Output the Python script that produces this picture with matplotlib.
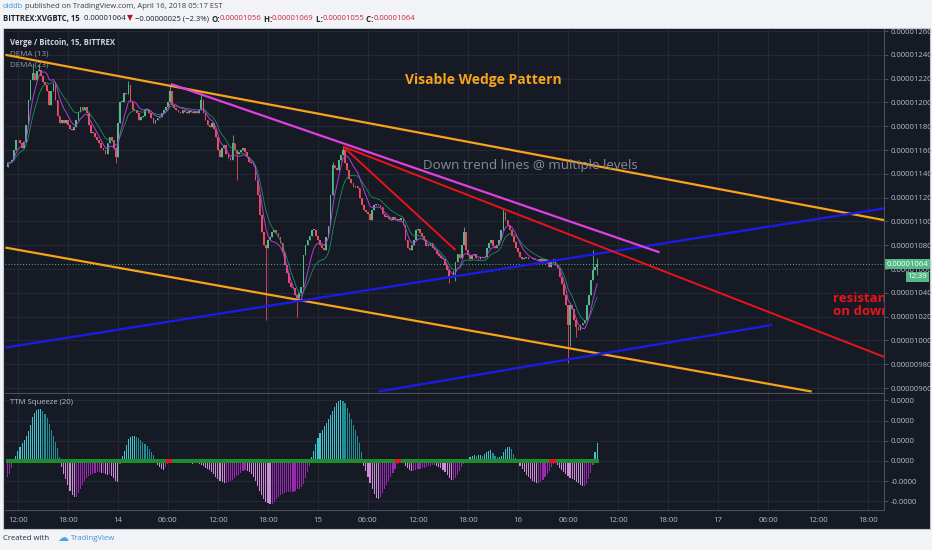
import matplotlib
matplotlib.use("Agg")
import matplotlib.pyplot as plt
import matplotlib.transforms as mtransforms
from matplotlib.patches import Rectangle
from matplotlib.ticker import FuncFormatter

plt.rcParams['font.family'] = ['Open Sans', 'DejaVu Sans']

# 15 minute candles, bar 0 = Apr 13 12:00, values in satoshi (1e-8 BTC)
first_bar = -5
first_open = 1146
closes = [
    1149, 1150, 1152, 1160, 1168,
    1168, 1166, 1162, 1167, 1181, 1202, 1219, 1225, 1219, 1226, 1227, 1222,
    1217, 1215, 1210, 1198, 1210, 1216, 1202, 1189, 1183, 1185, 1183, 1185,
    1181, 1178, 1177, 1179, 1185, 1192, 1196, 1194, 1196, 1191, 1181, 1174,
    1174, 1171, 1168, 1166, 1162, 1160, 1157, 1166, 1171, 1168, 1162, 1154,
    1183, 1200, 1200, 1208, 1207, 1215, 1200, 1194, 1194, 1191, 1185, 1188,
    1189, 1194, 1194, 1191, 1187, 1183, 1185, 1187, 1188, 1191, 1194, 1196,
    1200, 1210, 1198, 1195, 1194, 1192, 1191, 1194, 1192, 1191, 1193, 1192,
    1191, 1193, 1191, 1194, 1202, 1191, 1185, 1181, 1179, 1183, 1178, 1171,
    1160, 1154, 1162, 1164, 1157, 1153, 1152, 1166, 1160, 1157, 1158, 1160,
    1162, 1158, 1154, 1150, 1149, 1147, 1135, 1122, 1105, 1091, 1080, 1078,
    1084, 1087, 1091, 1093, 1090, 1087, 1082, 1074, 1063, 1057, 1048, 1045,
    1044, 1038, 1036, 1040, 1045, 1072, 1080, 1084, 1088, 1093, 1093, 1088,
    1084, 1080, 1078, 1076, 1087, 1096, 1122, 1147, 1145, 1143, 1152, 1156,
    1160, 1149, 1143, 1136, 1132, 1129, 1130, 1128, 1120, 1114, 1110, 1108,
    1106, 1101, 1110, 1114, 1115, 1114, 1112, 1106, 1104, 1104, 1102, 1101,
    1104, 1102, 1101, 1101, 1103, 1097, 1084, 1078, 1076, 1080, 1084, 1093,
    1094, 1090, 1088, 1084, 1079, 1080, 1082, 1078, 1076, 1073, 1071, 1069,
    1068, 1063, 1059, 1053, 1053, 1058, 1066, 1073, 1069, 1080, 1091, 1076,
    1072, 1068, 1072, 1073, 1069, 1068, 1070, 1069, 1070, 1078, 1082, 1084,
    1079, 1078, 1080, 1084, 1093, 1108, 1101, 1097, 1093, 1088, 1083, 1078,
    1074, 1070, 1068, 1069, 1070, 1068, 1068, 1069, 1068, 1068, 1067, 1068,
    1065, 1068, 1066, 1062, 1066, 1068, 1063, 1061, 1053, 1047, 1038, 1030,
    1013, 1030, 1026, 1017, 1011, 1009, 1013, 1015, 1017, 1030, 1038, 1051,
    1059, 1062, 1064,
]
# longer wicks (bar -> price)
wick_highs = {7: 1233, 10: 1232, 53: 1218, 73: 1215, 88: 1208, 103: 1173,
              151: 1150, 156: 1163, 214: 1095, 233: 1111, 276: 1076, 278: 1069}
wick_lows = {47: 1149, 105: 1135, 119: 1017, 134: 1020, 207: 1048, 210: 1050,
             264: 981, 265: 995, 268: 1003, 278: 1055}

# TTM Squeeze (20) momentum, 1e-8 units
squeeze_mom = [
    -8, -6.5, -3.5, -1, 2.5,
    5, 7, 9, 10.5, 12.5, 15, 18, 22, 24, 25.5, 26, 26,
    25, 23.5, 21.5, 18.5, 15.5, 12.5, 9.5, 6.5, 2, -3, -6.5, -9,
    -12, -15, -17, -18, -18, -16, -14, -12, -10, -8.5, -7.5, -7,
    -6.5, -6, -5.5, -5.5, -6, -6, -6.5, -7, -6.5, -7.5, -8.5, -10,
    -10.5, -1.5, 2.5, 5, 8, 11, 12, 12.5, 12.5, 12, 11.5, 10.5,
    9.5, 8.5, 7.5, 6, 4.5, 3, 1, -2, -3, -4, -4.5, -3,
    -1.5, -0.5, 0, -0.5, -0.5, -1, -1, -1, -1, -0.5, -1, -1,
    -1.5, -1, -1, -1.5, -2, -2.5, -3.5, -4, -4.5, -5.5, -6.5, -8,
    -9, -10, -10.5, -11, -11, -10.5, -10, -9.5, -8.5, -7.5, -7, -6,
    -5, -4.5, -5, -5.5, -6.5, -8, -10, -12.5, -15, -17, -19, -20.5,
    -21, -21.5, -21.5, -20.5, -19, -18, -17, -16.5, -16, -15.5, -15.5, -15.5,
    -15.5, -15, -14, -14, -13, -11.5, -8.5, -5.5, -2.5, 2, 5, 8.5,
    11.5, 14, 15.5, 17.5, 19, 21, 23, 25, 27, 28.5, 29.5, 30,
    29.5, 28.5, 26.5, 24, 21, 18, 15.5, 12.5, 9, 4.5, -2.5, -5,
    -8, -11, -14, -16.5, -18.5, -19, -18, -16, -14, -12, -10, -8,
    -6, -4, -1.5, -0.5, -0.5, -1, -2.5, -3.5, -4.5, -5, -5, -4.5,
    -4, -4, -3.5, -3.5, -3, -2.5, -2.5, -2, -2, -2.5, -3, -3.5,
    -4.5, -5.5, -7, -8.5, -9.5, -9.5, -8.5, -7, -5, -3, -1.5, 0.5,
    1, 2, 2.5, 3, 2.5, 3, 3, 2.5, 3.5, 4.5, 5, 5.5,
    4, 2.5, 2, 2, 2.5, 4.5, 6, 7, 7, 6, 3.5, 1.5,
    -1, -2.5, -4, -5.5, -7, -8, -9, -10, -10.5, -11, -11, -10.5,
    -9.5, -8, -6.5, -5, -3, -1.5, -1, -2, -3.5, -4.5, -5.5, -6.5,
    -7.5, -8.5, -9, -9.5, -10.5, -11, -12, -12.5, -12.5, -11.5, -9, -6,
    -2, 4.5, 9,
]
squeeze_on = [72, 73, 74, 182, 183, 184, 256, 257, 258]

tick_bars = list(range(0, 409, 24))
tick_labels = ["12:00", "18:00", "14", "06:00", "12:00", "18:00", "15", "06:00",
               "12:00", "18:00", "16", "06:00", "12:00", "18:00", "17", "06:00",
               "12:00", "18:00"]

# drawn trend lines: (bar, price) end points
wedge_top = [(-6, 1240), (416, 1101)]
wedge_bottom = [(-6, 1078), (381, 957)]
support_long = [(-6, 994), (416, 1111)]
support_short = [(173, 957), (362, 1013)]
resist_magenta = [(73.4, 1215.5), (308, 1074)]
resist_red_steep = [(156, 1163), (210, 1076)]
resist_red_long = [(156, 1163), (416, 986)]

W, H = 932, 550
BG = '#161a25'
GRID = '#252934'
EDGE = '#4b4f5a'
TXT = '#b8bcc6'
UP, DOWN = '#53b987', '#eb4d5c'

bars = list(range(first_bar, first_bar + len(closes)))
opens = [first_open] + closes[:-1]
highs = [wick_highs.get(b, max(o, c)) for b, o, c in zip(bars, opens, closes)]
lows = [wick_lows.get(b, min(o, c)) for b, o, c in zip(bars, opens, closes)]


def ema(vals, n):
    a = 2.0 / (n + 1)
    out = [vals[0]]
    for v in vals[1:]:
        out.append(out[-1] + a * (v - out[-1]))
    return out


def dema(vals, n):
    e1 = ema(vals, n)
    e2 = ema(e1, n)
    return [2 * a - b for a, b in zip(e1, e2)]


def rect(x0, y0, x1, y1):
    return [x0 / W, 1 - y1 / H, (x1 - x0) / W, (y1 - y0) / H]


fig = plt.figure(figsize=(W / 100, H / 100), dpi=100, facecolor='#f1f3f7')
fig.patches.append(Rectangle((3 / W, 1 - 529 / H), 927 / W, 501 / H,
                             transform=fig.transFigure, facecolor=BG,
                             edgecolor='#c3c7cf', lw=0.8, zorder=-5))

ax = fig.add_axes(rect(5, 29, 884, 393))
axm = fig.add_axes(rect(5, 394, 884, 510), sharex=ax)

for a in (ax, axm):
    a.set_facecolor(BG)
    for s in ('top', 'left'):
        a.spines[s].set_visible(False)
    for s in ('right', 'bottom'):
        a.spines[s].set_color(EDGE)
    a.grid(True, color=GRID, lw=0.7)
    a.set_axisbelow(True)
    a.tick_params(axis='y', right=True, left=False, labelright=True,
                  labelleft=False, color=EDGE, labelcolor=TXT,
                  labelsize=5.6, length=3, pad=2)

# candles
for b, o, h, l, c in zip(bars, opens, highs, lows, closes):
    col = UP if c >= o else DOWN
    ax.vlines(b, l, h, color=col, lw=0.6, zorder=2)
    ax.bar(b, max(abs(c - o), 0.8), bottom=min(o, c), width=0.8,
           color=col, lw=0, zorder=2)

ax.plot(bars, dema(closes, 23), color='#1f9a5b', lw=0.55, zorder=3)
ax.plot(bars, dema(closes, 13), color='#b43ddb', lw=0.7, zorder=3)

last_price = closes[-1]
ax.axhline(last_price, color=UP, lw=0.7, ls=(0, (1, 2)), zorder=1)

lines = [(wedge_top, '#f7a31c', 1.6), (wedge_bottom, '#f7a31c', 1.6),
         (support_long, '#1c1ce0', 1.7), (support_short, '#1c1ce0', 1.7),
         (resist_magenta, '#e040e0', 1.6), (resist_red_steep, '#e8141a', 1.4),
         (resist_red_long, '#e8141a', 1.4)]
for pts, col, lw in lines:
    ax.plot([p[0] for p in pts], [p[1] for p in pts], color=col, lw=lw,
            solid_capstyle='butt', zorder=4)

ax.set_xlim(-6.2, 415.7)
ax.set_ylim(955.8, 1261.7)
ax.set_yticks(range(960, 1261, 20))
ax.yaxis.set_major_formatter(FuncFormatter(lambda v, p: f"{v * 1e-8:.8f}"))
ax.set_xticks(tick_bars)
ax.tick_params(axis='x', bottom=False, labelbottom=False)

ax.text(185.8, 1218.8, "Visable Wedge Pattern", color='#f7a31c', fontsize=10,
        fontweight='bold', va='center', zorder=5)
ax.text(194.4, 1146.6, "Down trend lines @ multiple levels", color='#868a94',
        fontsize=9.6, va='center', zorder=5)
for txt, yv in (("resistance", 1035.6), ("on down trend", 1023.9)):
    ax.text(391.3, yv, txt, color='#e8141a', fontsize=9.5, fontweight='bold',
            va='center', clip_on=True, zorder=5)

ax.text(0.006, 0.962, "Verge / Bitcoin, 15, BITTREX", transform=ax.transAxes,
        color='#d1d4dc', fontsize=5.6, fontweight='bold', va='center')
ax.text(0.006, 0.932, "DEMA (13)", transform=ax.transAxes, color='#9598a1',
        fontsize=5.8, va='center')
ax.text(0.006, 0.902, "DEMA (23)", transform=ax.transAxes, color='#9598a1',
        fontsize=5.8, va='center')

trans = mtransforms.blended_transform_factory(ax.transAxes, ax.transData)
ax.annotate(f"{last_price * 1e-8:.8f}", xy=(1, last_price), xycoords=trans,
            xytext=(2, 0), textcoords='offset points', ha='left', va='center',
            fontsize=5.6, color='white', annotation_clip=False,
            bbox=dict(boxstyle='square,pad=0.2', fc=UP, ec='none'))
ax.annotate("12:39", xy=(1, last_price), xycoords=trans, xytext=(31, -9),
            textcoords='offset points', ha='right', va='center',
            fontsize=5.6, color='white', annotation_clip=False,
            bbox=dict(boxstyle='square,pad=0.2', fc=UP, ec='none'))

# TTM squeeze histogram
hist_cols = []
for i, v in enumerate(squeeze_mom):
    prev = squeeze_mom[i - 1] if i else v
    if v >= 0:
        hist_cols.append('#3cc3cc' if v >= prev else '#1d8f96')
    else:
        hist_cols.append('#d08ad9' if v < prev else '#9a28b0')
axm.bar(bars, squeeze_mom, width=0.55, color=hist_cols, lw=0, zorder=2)
dot_cols = ['#e8141a' if b in squeeze_on else '#1c8c2c' for b in bars]
axm.scatter(bars, [0] * len(bars), s=8, marker='s', c=dot_cols, lw=0, zorder=3)

axm.set_ylim(-24.3, 33.2)
axm.set_yticks([-20, -10, 0, 10, 20, 30])
axm.yaxis.set_major_formatter(FuncFormatter(lambda v, p: f"{v * 1e-8:.4f}"))
axm.set_xticks(tick_bars)
axm.set_xticklabels(tick_labels)
axm.tick_params(axis='x', length=0, pad=5, labelsize=5.6, labelcolor=TXT)
axm.text(0.006, 0.93, "TTM Squeeze (20)", transform=axm.transAxes,
         color='#b8bcc6', fontsize=5.6, va='center')

# header and footer
renderer = fig.canvas.get_renderer()


def segments(x_px, y_px, parts, size):
    x = x_px
    for s, col, wt in parts:
        t = fig.text(x / W, 1 - y_px / H, s, color=col, fontsize=size,
                     fontweight=wt, va='center', ha='left')
        x += t.get_window_extent(renderer).width
    return x


DARK = '#1e222d'
RED = '#d0273a'
segments(3, 7, [("olddb", '#3d93dc', 'normal'),
                (" published on TradingView.com, April 16, 2018 05:17 EST", '#3a3e48', 'normal')], 5.5)
segments(3, 19, [("BITTREX:XVGBTC, 15", DARK, 'bold'),
                 ("  0.00001064 ", DARK, 'normal'),
                 ("\u25bc", '#b2182b', 'normal'),
                 (" \u22120.00000025 (\u22122.3%) ", DARK, 'normal'),
                 ("O:", DARK, 'bold'), ("0.00001056", RED, 'normal'),
                 (" H:", DARK, 'bold'), ("0.00001069", RED, 'normal'),
                 (" L:", DARK, 'bold'), ("0.00001055", RED, 'normal'),
                 (" C:", DARK, 'bold'), ("0.00001064", RED, 'normal')], 5.6)
xe = segments(3, 539, [("Created with ", '#2a2e39', 'normal')], 5.6)
fig.text((xe + 6) / W, 1 - 538 / H, "\u2601", color='#49a6e3', fontsize=8,
         family='DejaVu Sans', va='center')
fig.text(71 / W, 1 - 539 / H, "TradingView", color='#3d93dc', fontsize=5.6, va='center')

fig.savefig("out.png", dpi=100, facecolor=fig.get_facecolor())
